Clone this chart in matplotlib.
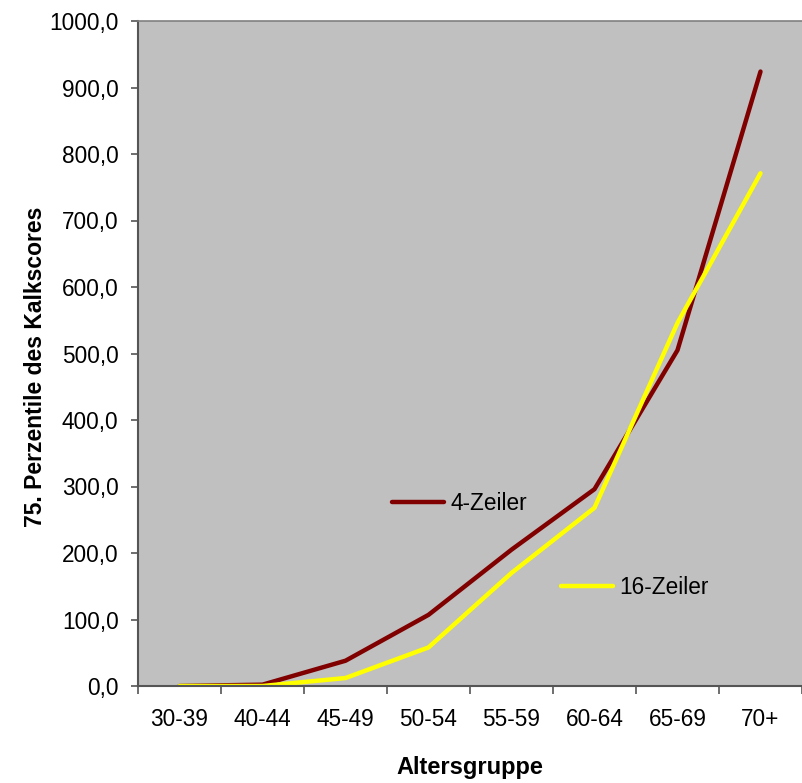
import matplotlib.pyplot as plt
import numpy as np

plt.rcParams['font.family'] = ['Liberation Sans', 'DejaVu Sans']

# data
groups = ["30-39", "40-44", "45-49", "50-54", "55-59", "60-64", "65-69", "70+"]
zeiler_4 = [0.0, 2.0, 38.0, 107.0, 205.0, 296.0, 505.0, 924.0]
zeiler_16 = [0.0, 0.0, 12.0, 58.0, 170.0, 268.0, 546.0, 771.0]
y_ticks = np.arange(0, 1001, 100)

fig = plt.figure(figsize=(8.03, 7.83), dpi=100)
ax = fig.add_axes([138 / 803, 97 / 783, 664 / 803, 665 / 783])
ax.set_facecolor('#c0c0c0')

x = np.arange(len(groups))
l4, = ax.plot(x, zeiler_4, color='#800000', lw=3.2, solid_capstyle='round')
l16, = ax.plot(x, zeiler_16, color='#ffff00', lw=3.2, solid_capstyle='round')

ax.set_xlim(-0.5, len(groups) - 0.5)
ax.set_ylim(0, 1000)

ax.set_yticks(y_ticks)
ax.set_yticklabels([f"{v:.1f}".replace('.', ',') for v in y_ticks])
ax.set_xticks(x)
ax.set_xticklabels(groups)
ax.set_xticks(np.arange(-0.5, len(groups)), minor=True)
ax.tick_params(axis='x', which='major', length=0, pad=16, labelsize=16.3)
ax.tick_params(axis='x', which='minor', length=6, width=1.2, color='#555555')
ax.tick_params(axis='y', length=5, width=1.2, color='#555555', labelsize=16.3, pad=9)

for s in ['left', 'bottom']:
    ax.spines[s].set_color('#555555')
    ax.spines[s].set_linewidth(1.5)
ax.spines['top'].set_color('#808080')
ax.spines['top'].set_linewidth(1.2)
ax.spines['right'].set_visible(False)

ax.set_xlabel('Altersgruppe', fontsize=17, fontweight='bold', labelpad=18)
ax.set_ylabel('75. Perzentile des Kalkscores', fontsize=16.5, fontweight='bold')
ax.yaxis.set_label_coords(-0.137, 0.48)

# in-plot legend labels
first = ax.legend([l4], ['4-Zeiler'], loc='center left', bbox_to_anchor=(0.352, 0.275),
                  frameon=False, fontsize=16.3, handlelength=2.3, handletextpad=0.3)
ax.add_artist(first)
ax.legend([l16], ['16-Zeiler'], loc='center left', bbox_to_anchor=(0.606, 0.148),
          frameon=False, fontsize=16.3, handlelength=2.3, handletextpad=0.3)

fig.savefig('out.png', dpi=100)
